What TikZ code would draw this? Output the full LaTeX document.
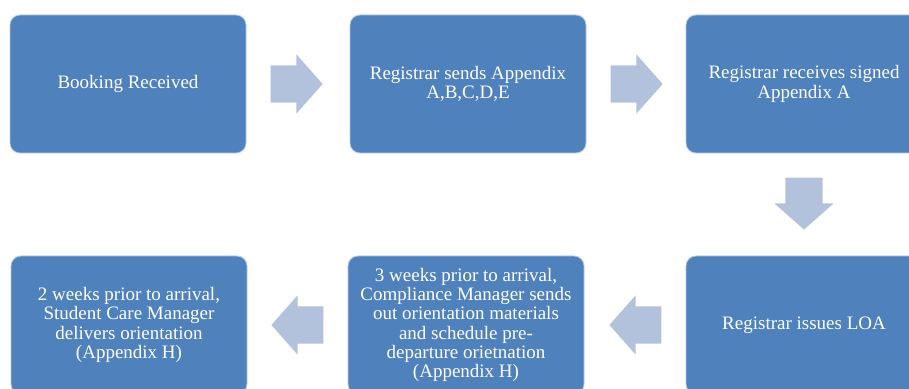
\documentclass[tikz,border=0pt]{standalone}
\usepackage{fontspec}
\setmainfont{Liberation Serif}
\usetikzlibrary{shapes.arrows,calc}
\definecolor{stepblue}{HTML}{4F81BD}
\definecolor{arrowblue}{HTML}{B3C2DC}

\begin{document}
\begin{tikzpicture}[
        x=1pt, y=1pt,
        stepbox/.style={draw=white!55!stepblue, line width=0.8pt, fill=stepblue, rounded corners=10pt,
            minimum width=236pt, minimum height=138pt, inner sep=0pt, align=center, text=white,
            font=\fontsize{19}{19.3}\selectfont},
        flowarrow/.style={single arrow, fill=arrowblue, draw=none, minimum height=52pt,
            single arrow head extend=11pt, single arrow head indent=0pt, single arrow tip angle=97,
            inner xsep=0pt, inner ysep=18.5pt, anchor=tail}
    ]
        \clip (0,0) rectangle (909,388);
        \fill[white] (0,0) rectangle (909,388);

        % Top row of steps
        \node[stepbox] (booking) at (128,304) {Booking Received};
        \node[stepbox] (sendapp) at (468,304) {Registrar sends Appendix\\A,B,C,D,E};
        \node[stepbox] (signed) at (804,304) {Registrar receives signed\\Appendix A};

        % Bottom row of steps
        \node[stepbox] (loa) at (804,63) {Registrar issues LOA};
        \node[stepbox] (compliance) at (466,63) {3 weeks prior to arrival,\\Compliance Manager sends\\out orientation materials\\and schedule pre-\\departure orietnation\\(Appendix H)};
        \node[stepbox] (studentcare) at (129,63) {2 weeks prior to arrival,\\Student Care Manager\\delivers orientation\\(Appendix H)};

        % Block arrows between the steps
        \node[flowarrow] (arrowa) at ($(booking.east)+(24,0)$) {};
        \node[flowarrow] (arrowb) at ($(sendapp.east)+(24,0)$) {};
        \node[flowarrow, rotate=-90] (arrowc) at ($(signed.south)+(0,-24)$) {};
        \node[flowarrow, rotate=180] (arrowd) at ($(loa.west)+(-24,0)$) {};
        \node[flowarrow, rotate=180] (arrowe) at ($(compliance.west)+(-24,0)$) {};
    \end{tikzpicture}
\end{document}
